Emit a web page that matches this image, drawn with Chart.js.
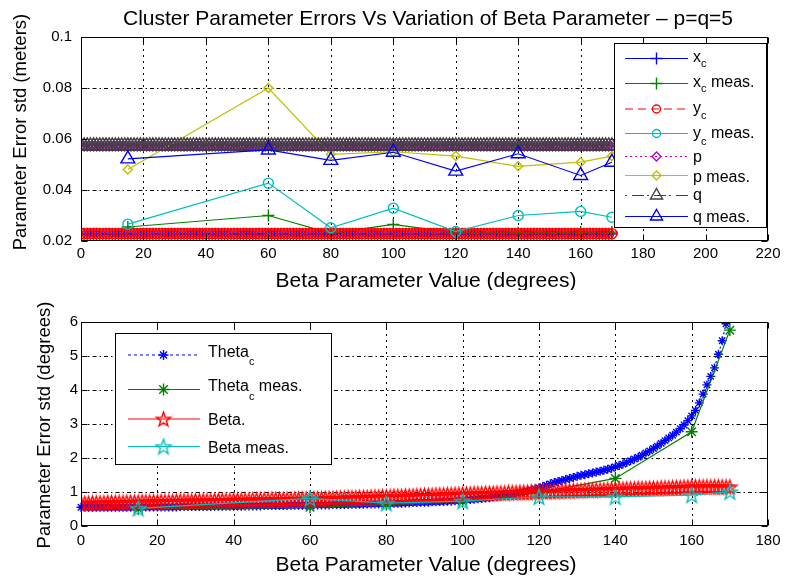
<!DOCTYPE html>
<html><head><meta charset="utf-8">
<script src="https://cdn.jsdelivr.net/npm/chart.js@4.4.1/dist/chart.umd.min.js"></script>
<style>
html,body{margin:0;padding:0;background:#fff;}
#wrap{position:relative;width:785px;height:579px;overflow:hidden;background:#fff;}
canvas{position:absolute;left:0;}
</style></head><body>
<div id="wrap">
<canvas id="c1" width="785" height="290" style="top:0"></canvas>
<canvas id="c2" width="785" height="289" style="top:290px"></canvas>
</div>
<script>
// ---------------- DATA ----------------
const betaDense = [0,1,2,3,4,5,6,7,8,9,10,11,12,13,14,15,16,17,18,19,20,21,22,23,24,25,26,27,28,29,30,31,32,33,34,35,36,37,38,39,40,41,42,43,44,45,46,47,48,49,50,51,52,53,54,55,56,57,58,59,60,61,62,63,64,65,66,67,68,69,70,71,72,73,74,75,76,77,78,79,80,81,82,83,84,85,86,87,88,89,90,91,92,93,94,95,96,97,98,99,100,101,102,103,104,105,106,107,108,109,110,111,112,113,114,115,116,117,118,119,120,121,122,123,124,125,126,127,128,129,130,131,132,133,134,135,136,137,138,139,140,141,142,143,144,145,146,147,148,149,150,151,152,153,154,155,156,157,158,159,160,161,162,163,164,165,166,167,168,169,170];
const betaMeas = [15,60,80,100,120,140,160,170];

// top panel (meters)
const xcDense = [0.0228,0.0228,0.0228,0.0228,0.0228,0.0228,0.0228,0.0228,0.0228,0.0228,0.0228,0.0228,0.0228,0.0228,0.0228,0.0228,0.0228,0.0228,0.0228,0.0228,0.0228,0.0228,0.0228,0.0228,0.0228,0.0228,0.0228,0.0228,0.0228,0.0228,0.0228,0.0228,0.0228,0.0228,0.0228,0.0228,0.0228,0.0228,0.0228,0.0228,0.0228,0.0228,0.0228,0.0228,0.0228,0.0228,0.0228,0.0228,0.0228,0.0228,0.0228,0.0228,0.0228,0.0228,0.0228,0.0228,0.0228,0.0228,0.0228,0.0228,0.0228,0.0228,0.0228,0.0228,0.0228,0.0228,0.0228,0.0228,0.0228,0.0228,0.0228,0.0228,0.0228,0.0228,0.0228,0.0228,0.0228,0.0228,0.0228,0.0228,0.0228,0.0228,0.0228,0.0228,0.0228,0.0228,0.0228,0.0228,0.0228,0.0228,0.0228,0.0228,0.0228,0.0228,0.0228,0.0228,0.0228,0.0228,0.0228,0.0228,0.0228,0.0228,0.0228,0.0228,0.0228,0.0228,0.0228,0.0228,0.0228,0.0228,0.0228,0.0228,0.0228,0.0228,0.0228,0.0228,0.0228,0.0228,0.0228,0.0228,0.0228,0.0228,0.0228,0.0228,0.0228,0.0228,0.0228,0.0228,0.0228,0.0228,0.0228,0.0228,0.0228,0.0228,0.0228,0.0228,0.0228,0.0228,0.0228,0.0228,0.0228,0.0228,0.0228,0.0228,0.0228,0.0228,0.0228,0.0228,0.0228,0.0228,0.0228,0.0228,0.0228,0.0228,0.0228,0.0228,0.0228,0.0228,0.0228,0.0228,0.0228,0.0228,0.0228,0.0228,0.0228,0.0228,0.0228,0.0228,0.0228,0.0228,0.0228,0.0228,0.0228];
const ycDense = [0.0229,0.0229,0.0229,0.0229,0.0229,0.0229,0.0229,0.0229,0.0229,0.0229,0.0229,0.0229,0.0229,0.0229,0.0229,0.0229,0.0229,0.0229,0.0229,0.0229,0.0229,0.0229,0.0229,0.0229,0.0229,0.0229,0.0229,0.0229,0.0229,0.0229,0.0229,0.0229,0.0229,0.0229,0.0229,0.0229,0.0229,0.0229,0.0229,0.0229,0.0229,0.0229,0.0229,0.0229,0.0229,0.0229,0.0229,0.0229,0.0229,0.0229,0.0229,0.0229,0.0229,0.0229,0.0229,0.0229,0.0229,0.0229,0.0229,0.0229,0.0229,0.0229,0.0229,0.0229,0.0229,0.0229,0.0229,0.0229,0.0229,0.0229,0.0229,0.0229,0.0229,0.0229,0.0229,0.0229,0.0229,0.0229,0.0229,0.0229,0.0229,0.0229,0.0229,0.0229,0.0229,0.0229,0.0229,0.0229,0.0229,0.0229,0.0229,0.0229,0.0229,0.0229,0.0229,0.0229,0.0229,0.0229,0.0229,0.0229,0.0229,0.0229,0.0229,0.0229,0.0229,0.0229,0.0229,0.0229,0.0229,0.0229,0.0229,0.0229,0.0229,0.0229,0.0229,0.0229,0.0229,0.0229,0.0229,0.0229,0.0229,0.0229,0.0229,0.0229,0.0229,0.0229,0.0229,0.0229,0.0229,0.0229,0.0229,0.0229,0.0229,0.0229,0.0229,0.0229,0.0229,0.0229,0.0229,0.0229,0.0229,0.0229,0.0229,0.0229,0.0229,0.0229,0.0229,0.0229,0.0229,0.0229,0.0229,0.0229,0.0229,0.0229,0.0229,0.0229,0.0229,0.0229,0.0229,0.0229,0.0229,0.0229,0.0229,0.0229,0.0229,0.0229,0.0229,0.0229,0.0229,0.0229,0.0229,0.0229];
const pDense = [0.0571,0.0571,0.0571,0.0571,0.0571,0.0571,0.0571,0.0571,0.0571,0.0571,0.0571,0.0571,0.0571,0.0571,0.0571,0.0571,0.0571,0.0571,0.0571,0.0571,0.0571,0.0571,0.0571,0.0571,0.0571,0.0571,0.0571,0.0571,0.0571,0.0571,0.0571,0.0571,0.0571,0.0571,0.0571,0.0571,0.0571,0.0571,0.0571,0.0571,0.0571,0.0571,0.0571,0.0571,0.0571,0.0571,0.0571,0.0571,0.0571,0.0571,0.0571,0.0571,0.0571,0.0571,0.0571,0.0571,0.0571,0.0571,0.0571,0.0571,0.0571,0.0571,0.0571,0.0571,0.0571,0.0571,0.0571,0.0571,0.0571,0.0571,0.0571,0.0571,0.0571,0.0571,0.0571,0.0571,0.0571,0.0571,0.0571,0.0571,0.0571,0.0571,0.0571,0.0571,0.0571,0.0571,0.0571,0.0571,0.0571,0.0571,0.0571,0.0571,0.0571,0.0571,0.0571,0.0571,0.0571,0.0571,0.0571,0.0571,0.0571,0.0571,0.0571,0.0571,0.0571,0.0571,0.0571,0.0571,0.0571,0.0571,0.0571,0.0571,0.0571,0.0571,0.0571,0.0571,0.0571,0.0571,0.0571,0.0571,0.0571,0.0571,0.0571,0.0571,0.0571,0.0571,0.0571,0.0571,0.0571,0.0571,0.0571,0.0571,0.0571,0.0571,0.0571,0.0571,0.0571,0.0571,0.0571,0.0571,0.0571,0.0571,0.0571,0.0571,0.0571,0.0571,0.0571,0.0571,0.0571,0.0571,0.0571,0.0571,0.0571,0.0571,0.0571,0.0571,0.0571,0.0571,0.0571,0.0571,0.0571,0.0571,0.0571,0.0571,0.0571,0.0571,0.0571,0.0571,0.0571,0.0571,0.0571];
const qDense = [0.0573,0.0573,0.0573,0.0573,0.0573,0.0573,0.0573,0.0573,0.0573,0.0573,0.0573,0.0573,0.0573,0.0573,0.0573,0.0573,0.0573,0.0573,0.0573,0.0573,0.0573,0.0573,0.0573,0.0573,0.0573,0.0573,0.0573,0.0573,0.0573,0.0573,0.0573,0.0573,0.0573,0.0573,0.0573,0.0573,0.0573,0.0573,0.0573,0.0573,0.0573,0.0573,0.0573,0.0573,0.0573,0.0573,0.0573,0.0573,0.0573,0.0573,0.0573,0.0573,0.0573,0.0573,0.0573,0.0573,0.0573,0.0573,0.0573,0.0573,0.0573,0.0573,0.0573,0.0573,0.0573,0.0573,0.0573,0.0573,0.0573,0.0573,0.0573,0.0573,0.0573,0.0573,0.0573,0.0573,0.0573,0.0573,0.0573,0.0573,0.0573,0.0573,0.0573,0.0573,0.0573,0.0573,0.0573,0.0573,0.0573,0.0573,0.0573,0.0573,0.0573,0.0573,0.0573,0.0573,0.0573,0.0573,0.0573,0.0573,0.0573,0.0573,0.0573,0.0573,0.0573,0.0573,0.0573,0.0573,0.0573,0.0573,0.0573,0.0573,0.0573,0.0573,0.0573,0.0573,0.0573,0.0573,0.0573,0.0573,0.0573,0.0573,0.0573,0.0573,0.0573,0.0573,0.0573,0.0573,0.0573,0.0573,0.0573,0.0573,0.0573,0.0573,0.0573,0.0573,0.0573,0.0573,0.0573,0.0573,0.0573,0.0573,0.0573,0.0573,0.0573,0.0573,0.0573,0.0573,0.0573,0.0573,0.0573,0.0573,0.0573,0.0573,0.0573,0.0573,0.0573,0.0573,0.0573,0.0573,0.0573,0.0573,0.0573,0.0573,0.0573,0.0573,0.0573,0.0573,0.0573,0.0573,0.0573];
const xcMeas = [0.0255,0.0300,0.0230,0.0265,0.0232,0.0232,0.0235,0.0235];
const ycMeas = [0.0266,0.0427,0.0252,0.0329,0.0237,0.0300,0.0316,0.0293];
const pMeas  = [0.0480,0.0800,0.0540,0.0550,0.0533,0.0493,0.0509,0.0533];
const qMeas  = [0.0522,0.0557,0.0516,0.0548,0.0474,0.0542,0.0457,0.0509];

// bottom panel (degrees)
const thetaDense = [0.55,0.55,0.55,0.55,0.55,0.55,0.55,0.55,0.55,0.55,
0.55,0.55,0.55,0.55,0.55,0.56,0.56,0.56,0.56,0.56,
0.56,0.56,0.56,0.56,0.56,0.56,0.57,0.57,0.57,0.57,
0.57,0.57,0.57,0.57,0.57,0.58,0.58,0.58,0.58,0.58,
0.58,0.58,0.58,0.59,0.59,0.59,0.59,0.59,0.60,0.60,
0.60,0.60,0.60,0.60,0.60,0.61,0.61,0.61,0.61,0.61,
0.61,0.62,0.62,0.62,0.62,0.62,0.63,0.63,0.63,0.63,
0.63,0.64,0.64,0.64,0.64,0.65,0.65,0.65,0.65,0.66,
0.66,0.66,0.67,0.67,0.67,0.68,0.68,0.69,0.69,0.70,
0.70,0.70,0.71,0.71,0.72,0.72,0.73,0.73,0.74,0.75,
0.76,0.77,0.78,0.79,0.80,0.81,0.82,0.83,0.85,0.86,
0.88,0.90,0.92,0.94,0.96,0.98,1.00,1.03,1.06,1.09,
1.12,1.16,1.20,1.24,1.28,1.31,1.34,1.37,1.40,1.43,
1.46,1.49,1.51,1.54,1.56,1.59,1.61,1.64,1.67,1.70,
1.74,1.78,1.82,1.87,1.92,1.97,2.02,2.08,2.15,2.21,
2.28,2.35,2.43,2.51,2.59,2.67,2.76,2.86,2.97,3.10,
3.24,3.40,3.62,3.88,4.15,4.40,4.65,5.05,5.45,5.95,
6.70];
const betaErrDense = [0.67,0.67,0.67,0.68,0.68,0.68,0.68,0.69,0.69,0.69,
0.69,0.69,0.70,0.70,0.70,0.70,0.71,0.71,0.71,0.71,
0.71,0.72,0.72,0.72,0.72,0.73,0.73,0.73,0.73,0.73,
0.74,0.74,0.74,0.74,0.74,0.75,0.75,0.75,0.75,0.75,
0.76,0.76,0.76,0.76,0.76,0.77,0.77,0.77,0.77,0.77,
0.78,0.78,0.78,0.78,0.78,0.78,0.79,0.79,0.79,0.79,
0.79,0.80,0.80,0.80,0.81,0.81,0.81,0.82,0.82,0.82,
0.83,0.83,0.83,0.84,0.84,0.84,0.85,0.85,0.85,0.86,
0.86,0.86,0.87,0.87,0.87,0.88,0.88,0.88,0.89,0.89,
0.90,0.90,0.90,0.91,0.91,0.91,0.92,0.92,0.93,0.93,
0.94,0.94,0.94,0.95,0.95,0.95,0.96,0.96,0.96,0.97,
0.97,0.97,0.98,0.98,0.98,0.99,0.99,0.99,1.00,1.00,
1.01,1.01,1.01,1.02,1.02,1.02,1.03,1.03,1.03,1.04,
1.04,1.04,1.05,1.05,1.05,1.06,1.06,1.06,1.07,1.07,
1.08,1.08,1.08,1.09,1.09,1.09,1.10,1.10,1.10,1.11,
1.11,1.11,1.12,1.12,1.12,1.13,1.13,1.13,1.14,1.14,
1.15,1.15,1.15,1.15,1.15,1.15,1.15,1.15,1.15,1.15,
1.15];
const thetaMeas = [0.50,0.55,0.63,0.72,0.98,1.40,2.77,5.76];
const betaErrMeas = [0.52,0.81,0.67,0.73,0.86,0.86,0.91,1.01];

const titleText = 'Cluster Parameter Errors Vs Variation of Beta Parameter \u2013 p=q=5';
const xTitle = 'Beta Parameter Value (degrees)';
const yTitleTop = 'Parameter Error std (meters)';
const yTitleBot = 'Parameter Error std (degrees)';

// ---------------- STYLE ----------------
const FONT = '"Liberation Sans", Arial, Helvetica, sans-serif';
const C = {blue:'#0000ff', green:'#008000', red:'#ff0000', cyan:'#00bfbf', mag:'#bf00bf', yel:'#bfbf00', blk:'#404040'};
Chart.defaults.font.family = FONT;
Chart.defaults.color = '#000';
const MW = 1.4; // marker stroke width
const LW = 1.2; // line width

function pentagram(color, r) {
  const s = Math.ceil(2 * r + 4);
  const c = document.createElement('canvas'); c.width = s; c.height = s;
  const g = c.getContext('2d');
  g.strokeStyle = color; g.lineWidth = MW; g.lineJoin = 'miter';
  g.beginPath();
  for (let k = 0; k < 10; k++) {
    const ang = -Math.PI / 2 + k * Math.PI / 5;
    const rr = (k % 2) ? r * 0.4 : r;
    const px = s / 2 + rr * Math.cos(ang), py = s / 2 + rr * Math.sin(ang) + r * 0.1;
    if (k) g.lineTo(px, py); else g.moveTo(px, py);
  }
  g.closePath(); g.stroke();
  return c;
}
const starRed = pentagram(C.red, 7.5);
const starCyan = pentagram(C.cyan, 8);

function pts(xs, ys) { return xs.map((x, i) => ({x: x, y: ys[i]})); }
function ds(data, color, style, r, dash, order) {
  return {data: data, borderColor: color, borderWidth: LW, borderDash: dash || [],
    pointStyle: style, pointRadius: r, pointHoverRadius: r, pointBorderColor: color, pointBorderWidth: MW,
    pointBackgroundColor: 'rgba(0,0,0,0)', backgroundColor: 'rgba(0,0,0,0)', fill: false, tension: 0, order: order};
}

function marker(ctx, style, r, x, y, color) {
  ctx.save();
  ctx.strokeStyle = color; ctx.lineWidth = MW; ctx.setLineDash([]);
  if (typeof style === 'object') { ctx.drawImage(style, x - style.width / 2, y - style.height / 2); ctx.restore(); return; }
  ctx.beginPath();
  if (style === 'cross' || style === 'star') {
    ctx.moveTo(x, y - r); ctx.lineTo(x, y + r); ctx.moveTo(x - r, y); ctx.lineTo(x + r, y);
    if (style === 'star') { const d = r * Math.SQRT1_2; ctx.moveTo(x - d, y - d); ctx.lineTo(x + d, y + d); ctx.moveTo(x - d, y + d); ctx.lineTo(x + d, y - d); }
  } else if (style === 'circle') { ctx.arc(x, y, r, 0, Math.PI * 2); }
  else if (style === 'rectRot') { ctx.moveTo(x, y - r); ctx.lineTo(x + r, y); ctx.lineTo(x, y + r); ctx.lineTo(x - r, y); ctx.closePath(); }
  else if (style === 'triangle') { ctx.moveTo(x, y - r); ctx.lineTo(x + 0.866 * r, y + 0.5 * r); ctx.lineTo(x - 0.866 * r, y + 0.5 * r); ctx.closePath(); }
  ctx.stroke();
  ctx.restore();
}

function drawLegend(ctx, L) {
  ctx.save();
  ctx.fillStyle = '#fff'; ctx.fillRect(L.x, L.y, L.w, L.h);
  ctx.strokeStyle = '#000'; ctx.lineWidth = 1; ctx.strokeRect(L.x + 0.5, L.y + 0.5, L.w, L.h);
  L.items.forEach(e => {
    ctx.strokeStyle = e.color; ctx.lineWidth = LW; ctx.setLineDash(e.dash || []);
    ctx.beginPath(); ctx.moveTo(L.x1, e.ly); ctx.lineTo(L.x2, e.ly); ctx.stroke();
    ctx.setLineDash([]);
    marker(ctx, e.ps, e.r, L.xm, e.ly, e.color);
    ctx.fillStyle = '#000'; ctx.textAlign = 'left'; ctx.textBaseline = 'alphabetic';
    ctx.font = '16px ' + FONT;
    let x = L.xt;
    ctx.fillText(e.main, x, e.by); x += ctx.measureText(e.main).width;
    if (e.sub) { ctx.font = '11px ' + FONT; ctx.fillText(e.sub, x, e.sb); x += ctx.measureText(e.sub).width; ctx.font = '16px ' + FONT; }
    if (e.rest) ctx.fillText(e.rest, x, e.by);
  });
  ctx.restore();
}

function makeFrame(cfg) {
  return {
    id: 'frame',
    beforeDatasetsDraw(chart) {
      const {ctx, chartArea: a} = chart;
      const xs = chart.scales.x, ys = chart.scales.y;
      ctx.save();
      ctx.strokeStyle = '#000'; ctx.lineWidth = 1;
      ctx.setLineDash([2, 4]);
      xs.ticks.forEach(t => {
        const px = Math.round(xs.getPixelForValue(t.value)) + 0.5;
        if (px <= a.left + 2 || px >= a.right - 2) return;
        ctx.beginPath(); ctx.moveTo(px, a.top); ctx.lineTo(px, a.bottom); ctx.stroke();
      });
      ctx.setLineDash([4, 3, 1.5, 3]);
      ys.ticks.forEach(t => {
        const py = Math.round(ys.getPixelForValue(t.value)) + 0.5;
        if (py <= a.top + 2 || py >= a.bottom - 2) return;
        ctx.beginPath(); ctx.moveTo(a.left, py); ctx.lineTo(a.right, py); ctx.stroke();
      });
      ctx.restore();
    },
    afterDatasetsDraw(chart) {
      const {ctx, chartArea: a} = chart;
      const xs = chart.scales.x, ys = chart.scales.y;
      const L = Math.round(a.left) + 0.5, R = Math.round(a.right) - 0.5, T = Math.round(a.top) + 0.5, B = Math.round(a.bottom) - 0.5;
      ctx.save();
      ctx.strokeStyle = '#000'; ctx.lineWidth = 1; ctx.setLineDash([]);
      ctx.strokeRect(L, T, R - L, B - T);
      const tl = 6;
      ctx.beginPath();
      xs.ticks.forEach(t => {
        const px = Math.round(xs.getPixelForValue(t.value)) + 0.5;
        ctx.moveTo(px, B); ctx.lineTo(px, B - tl); ctx.moveTo(px, T); ctx.lineTo(px, T + tl);
      });
      ys.ticks.forEach(t => {
        const py = Math.round(ys.getPixelForValue(t.value)) + 0.5;
        ctx.moveTo(L, py); ctx.lineTo(L + tl, py); ctx.moveTo(R, py); ctx.lineTo(R - tl, py);
      });
      ctx.stroke();
      // tick labels
      ctx.fillStyle = '#000'; ctx.font = '15px ' + FONT;
      ctx.textAlign = 'center'; ctx.textBaseline = 'middle';
      xs.ticks.forEach(t => ctx.fillText(cfg.xfmt(t.value), xs.getPixelForValue(t.value), a.bottom + cfg.xLabOff));
      ctx.textAlign = 'right';
      ys.ticks.forEach(t => ctx.fillText(cfg.yfmt(t.value), cfg.yLabRight, ys.getPixelForValue(t.value)));
      ctx.restore();
    },
    afterDraw(chart) {
      const ctx = chart.ctx;
      ctx.save();
      ctx.fillStyle = '#000';
      if (cfg.title) {
        ctx.font = '21px ' + FONT; ctx.textAlign = 'center'; ctx.textBaseline = 'alphabetic';
        ctx.fillText(cfg.title, cfg.titleX, cfg.titleY);
      }
      ctx.font = '21px ' + FONT; ctx.textAlign = 'center'; ctx.textBaseline = 'alphabetic';
      ctx.fillText(cfg.xTitle, cfg.xTitleX, cfg.xTitleY);
      ctx.save();
      ctx.translate(cfg.yTitleX, cfg.yTitleY); ctx.rotate(-Math.PI / 2);
      ctx.font = '18.5px ' + FONT; ctx.textAlign = 'center'; ctx.textBaseline = 'middle';
      ctx.fillText(cfg.yTitle, 0, 0);
      ctx.restore();
      ctx.restore();
      drawLegend(ctx, cfg.legend);
    }
  };
}

function axes(xmin, xmax, xstep, ymin, ymax, ystep, xh) {
  return {
    x: {type: 'linear', min: xmin, max: xmax, grid: {display: false}, border: {display: false},
        ticks: {display: false, stepSize: xstep, autoSkip: false, maxRotation: 0},
        afterFit(s) { s.height = xh; }},
    y: {type: 'linear', min: ymin, max: ymax, grid: {display: false}, border: {display: false},
        ticks: {display: false, stepSize: ystep},
        afterFit(s) { s.width = 81; }}
  };
}

// ---------------- TOP CHART ----------------
const topDatasets = [
  ds(pts(betaDense, xcDense), C.blue, 'cross', 6, [], 8),
  ds(pts(betaMeas, xcMeas), C.green, 'cross', 6, [], 7),
  ds(pts(betaDense, ycDense), C.red, 'circle', 5, [8, 5], 6),
  ds(pts(betaMeas, ycMeas), C.cyan, 'circle', 5, [], 5),
  ds(pts(betaDense, pDense), C.mag, 'rectRot', 4.5, [2, 3], 4),
  ds(pts(betaMeas, pMeas), C.yel, 'rectRot', 4.5, [], 3),
  ds(pts(betaDense, qDense), C.blk, 'triangle', 8, [7, 3, 2, 3], 2),
  ds(pts(betaMeas, qMeas), C.blue, 'triangle', 8, [], 1)
];
new Chart(document.getElementById('c1'), {
  type: 'line',
  data: {datasets: topDatasets},
  options: {
    responsive: false, animation: false, events: [],
    layout: {padding: {left: 0, top: 37, right: 17, bottom: 0}},
    plugins: {legend: {display: false}, tooltip: {enabled: false}},
    scales: axes(0, 220, 20, 0.02, 0.1, 0.02, 49)
  },
  plugins: [makeFrame({
    xfmt: v => String(v), yfmt: v => String(Math.round(v * 100) / 100),
    xLabOff: 13, yLabRight: 72,
    title: titleText, titleX: 428, titleY: 25,
    xTitle: xTitle, xTitleX: 426, xTitleY: 287,
    yTitle: yTitleTop, yTitleX: 21, yTitleY: 132,
    legend: {x: 614, y: 43, w: 152, h: 184, x1: 625, x2: 688, xm: 656.5, xt: 693,
      items: [
        {color: C.blue, ps: 'cross', r: 6, ly: 58.5, by: 62, sb: 67, main: 'x', sub: 'c', rest: ''},
        {color: C.green, ps: 'cross', r: 6, ly: 83.5, by: 87, sb: 92, main: 'x', sub: 'c', rest: ' meas.'},
        {color: C.red, ps: 'circle', r: 4, dash: [8, 5], ly: 109, by: 112.5, sb: 119, main: 'y', sub: 'c', rest: ''},
        {color: C.cyan, ps: 'circle', r: 4, ly: 133.5, by: 137.5, sb: 145, main: 'y', sub: 'c', rest: ' meas.'},
        {color: C.mag, ps: 'rectRot', r: 4.5, dash: [2, 3], ly: 156.5, by: 161.5, main: 'p', rest: ''},
        {color: C.yel, ps: 'rectRot', r: 4.5, ly: 175.5, by: 181.5, main: 'p meas.', rest: ''},
        {color: C.blk, ps: 'triangle', r: 7, dash: [2, 5, 12, 3], ly: 195.5, by: 200, main: 'q', rest: ''},
        {color: C.blue, ps: 'triangle', r: 7, ly: 216.5, by: 221.5, main: 'q meas.', rest: ''}
      ]}
  })]
});

// ---------------- BOTTOM CHART ----------------
const botDatasets = [
  Object.assign(ds(pts(betaDense, thetaDense), C.blue, 'star', 4.5, [2, 3], 4), {clip: {left: 10, right: 10, top: 0, bottom: 10}}),
  ds(pts(betaMeas, thetaMeas), C.green, 'star', 6, [], 3),
  ds(pts(betaDense, betaErrDense), C.red, starRed, 7, [], 2),
  ds(pts(betaMeas, betaErrMeas), C.cyan, starCyan, 8, [], 1)
];
new Chart(document.getElementById('c2'), {
  type: 'line',
  data: {datasets: botDatasets},
  options: {
    responsive: false, animation: false, events: [],
    layout: {padding: {left: 0, top: 32, right: 17, bottom: 0}},
    plugins: {legend: {display: false}, tooltip: {enabled: false}},
    scales: axes(0, 180, 20, 0, 6, 1, 53)
  },
  plugins: [makeFrame({
    xfmt: v => String(v), yfmt: v => String(v),
    xLabOff: 15, yLabRight: 78,
    title: null,
    xTitle: xTitle, xTitleX: 426, xTitleY: 281,
    yTitle: yTitleBot, yTitleX: 45, yTitleY: 135,
    legend: {x: 115, y: 43, w: 216, h: 131, x1: 128, x2: 200, xm: 163.5, xt: 208,
      items: [
        {color: C.blue, ps: 'star', r: 5, dash: [3, 3], ly: 65, by: 66.5, sb: 75, main: 'Theta', sub: 'c', rest: ''},
        {color: C.green, ps: 'star', r: 6, ly: 99.5, by: 101, sb: 109.5, main: 'Theta', sub: 'c', rest: ' meas.'},
        {color: C.red, ps: starRed, r: 7, ly: 129, by: 135, main: 'Beta.', rest: ''},
        {color: C.cyan, ps: starCyan, r: 8, ly: 156.5, by: 163, main: 'Beta meas.', rest: ''}
      ]}
  })]
});
</script>
</body></html>
